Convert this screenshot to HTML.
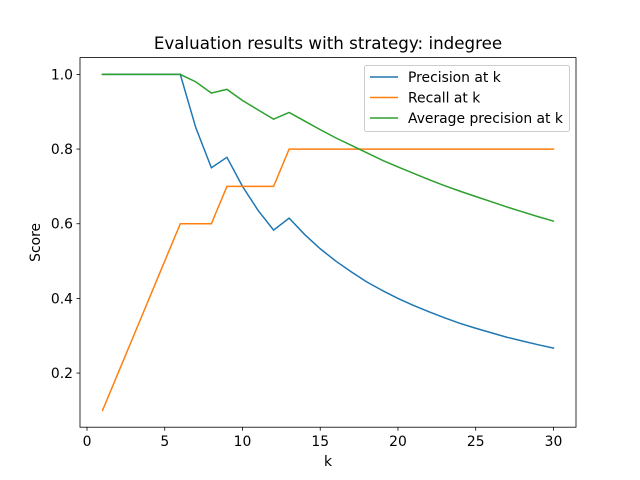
<!DOCTYPE html>
<html><head><meta charset="utf-8"><style>body{margin:0;background:#fff}svg{display:block;font-family:"DejaVu Sans","Liberation Sans",sans-serif}</style></head>
<body>
<svg id="c" width="640" height="480"></svg>
<script>
const ks=[1,2,3,4,5,6,7,8,9,10,11,12,13,14,15,16,17,18,19,20,21,22,23,24,25,26,27,28,29,30];
const precision=[1,1,1,1,1,1,0.857,0.75,0.778,0.7,0.636,0.583,0.615,0.571,0.533,0.5,0.471,0.444,0.421,0.4,0.381,0.364,0.348,0.333,0.32,0.308,0.296,0.286,0.276,0.267];
const recall=[0.1,0.2,0.3,0.4,0.5,0.6,0.6,0.6,0.7,0.7,0.7,0.7,0.8,0.8,0.8,0.8,0.8,0.8,0.8,0.8,0.8,0.8,0.8,0.8,0.8,0.8,0.8,0.8,0.8,0.8];
const avgPrecision=[1,1,1,1,1,1,0.98,0.95,0.96,0.93,0.905,0.88,0.898,0.875,0.852,0.83,0.81,0.79,0.77,0.752,0.735,0.718,0.702,0.687,0.673,0.659,0.645,0.632,0.619,0.607];
const xTicks=[0,5,10,15,20,25,30];
const yTicks=[0.2,0.4,0.6,0.8,1.0];
const seriesNames=["Precision at k","Recall at k","Average precision at k"];
const colors=["#1f77b4","#ff7f0e","#2ca02c"];
const L=80,R=576,T=57.6,B=427.2;
const x0=-0.45,x1=31.45,y0=0.055,y1=1.045;
const sx=v=>L+(v-x0)/(x1-x0)*(R-L);
const sy=v=>B-(v-y0)/(y1-y0)*(B-T);
const svg=document.getElementById('c');const NS="http://www.w3.org/2000/svg";
function mk(t,a,p){const e=document.createElementNS(NS,t);for(const k in a)e.setAttribute(k,a[k]);(p||svg).appendChild(e);return e;}
const series=[precision,recall,avgPrecision];
series.forEach((s,i)=>{const p=mk('polyline',{points:s.map((v,j)=>sx(ks[j])+','+sy(v)).join(' '),fill:'none',stroke:colors[i],'stroke-width':1.5,'stroke-linecap':'square'});

});
const frame=mk('rect',{x:L,y:T,width:R-L,height:B-T,fill:'none',stroke:'#000','stroke-width':0.8});


xTicks.forEach(v=>{const X=sx(v);mk('line',{x1:X,x2:X,y1:B,y2:B+3.5,stroke:'#000','stroke-width':0.8});
const t=mk('text',{x:X,y:B+19,'text-anchor':'middle','font-size':13.9,fill:'#000'});t.textContent=v;

});
yTicks.forEach(v=>{const Y=sy(v);mk('line',{x1:L-3.5,x2:L,y1:Y,y2:Y,stroke:'#000','stroke-width':0.8});
const t=mk('text',{x:L-7,y:Y+5,'text-anchor':'end','font-size':13.9,fill:'#000'});t.textContent=v.toFixed(1);

});
const title=mk('text',{x:(L+R)/2,y:49,'text-anchor':'middle','font-size':16.7,fill:'#000'});title.textContent="Evaluation results with strategy: indegree";


const xl=mk('text',{x:(L+R)/2,y:466,'text-anchor':'middle','font-size':13.9,fill:'#000'});xl.textContent="k";


const yl=mk('text',{x:40,y:(T+B)/2,'text-anchor':'middle','font-size':13.9,fill:'#000',transform:`rotate(-90 40 ${(T+B)/2})`});yl.textContent="Score";


const lg=mk('g',{});


mk('rect',{x:364.5,y:65.5,width:205,height:66,rx:2,fill:'#fff','fill-opacity':0.8,stroke:'#ccc'},lg);
seriesNames.forEach((n,i)=>{const Y=77+i*20.5;mk('line',{x1:370,x2:398,y1:Y,y2:Y,stroke:colors[i],'stroke-width':1.5},lg);
const t=mk('text',{x:408,y:Y+5,'font-size':13.9,fill:'#000'},lg);t.textContent=n;

});
</script>
</body></html>
